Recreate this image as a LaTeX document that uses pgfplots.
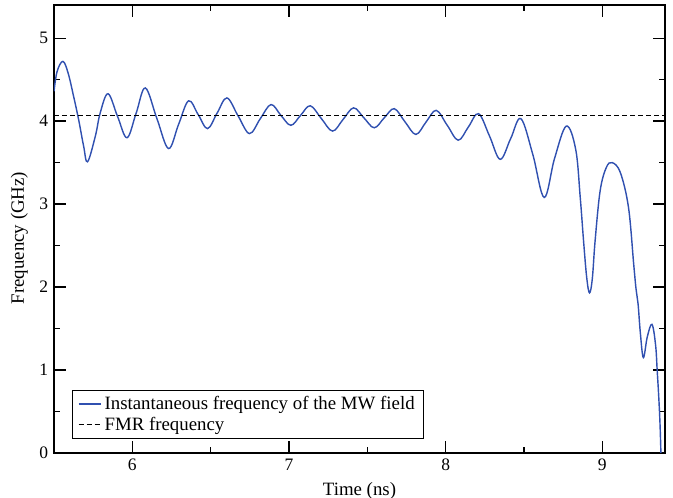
\documentclass[border=0pt]{standalone}
\usepackage{pgfplots}
\pgfplotsset{compat=1.18}
\usepackage{fontspec}
\setmainfont{Liberation Serif}
\definecolor{curveblue}{RGB}{48,80,176}
\begin{document}
\begin{tikzpicture}
\begin{axis}[
  scale only axis,
  width=366.6pt, height=268.8pt,
  xmin=5.5, xmax=9.4, ymin=0, ymax=5.4,
  xtick={6,7,8,9}, ytick={0,1,2,3,4,5},
  minor xtick={6.5,7.5,8.5},
  minor ytick={0.5,1.5,2.5,3.5,4.5},
  tick align=inside,
  major tick length=7pt, minor tick length=3.5pt,
  axis line style={line width=1pt},
  every tick/.style={black, line width=0.8pt},
  /pgf/number format/assume math mode=true,
  tick label style={font=\fontsize{10.5}{12}\selectfont},
  label style={font=\fontsize{11.3}{13}\selectfont},
  xlabel={Time (ns)},
  ylabel={Frequency (GHz)},
  ylabel style={at={(axis description cs:-0.033,0.48)}, anchor=south, rotate=0},
  legend style={at={(0.03,0.031)}, anchor=south west, draw=black, line width=0.6pt,
    font=\fontsize{11.3}{13}\selectfont, inner xsep=3pt, inner ysep=1.5pt, row sep=-1pt,
    cells={anchor=west}},
  legend image code/.code={\draw[#1] (0pt,0pt) -- (13.2pt,0pt);},
  legend cell align=left,
]
\addplot[curveblue, line width=0.85pt, smooth, tension=0.6] coordinates {
(5.500,4.36) (5.520,4.60) (5.557,4.72) (5.590,4.58) (5.625,4.30) (5.657,4.02)
(5.689,3.70) (5.714,3.51) (5.764,3.82) (5.795,4.10) (5.845,4.33) (5.905,4.06)
(5.966,3.80) (6.025,4.10) (6.083,4.40) (6.157,4.03) (6.231,3.67) (6.295,3.96)
(6.359,4.245) (6.420,4.08) (6.480,3.91) (6.542,4.10) (6.604,4.28) (6.676,4.06)
(6.748,3.85) (6.817,4.03) (6.885,4.20) (6.948,4.07) (7.012,3.95) (7.074,4.07)
(7.136,4.185) (7.207,4.03) (7.278,3.88) (7.345,4.02) (7.412,4.16) (7.478,4.04)
(7.544,3.92) (7.608,4.04) (7.672,4.15) (7.741,3.99) (7.810,3.84) (7.875,3.99)
(7.940,4.13) (8.010,3.95) (8.080,3.77) (8.145,3.93) (8.210,4.09) (8.280,3.82)
(8.348,3.54) (8.415,3.79) (8.480,4.03) (8.556,3.60) (8.629,3.08) (8.695,3.55)
(8.770,3.94) (8.830,3.66) (8.859,3.08) (8.880,2.56) (8.900,2.12) (8.918,1.93)
(8.936,2.10) (8.954,2.56) (8.986,3.16) (9.025,3.44) (9.063,3.50) (9.115,3.38)
(9.167,2.96) (9.200,2.28) (9.215,1.98) (9.228,1.80) (9.243,1.44) (9.262,1.15)
(9.287,1.40) (9.317,1.55) (9.340,1.30) (9.350,1.00) (9.360,0.68) (9.368,0.36)
(9.374,0.00)
};
\addlegendentry{Instantaneous frequency of the MW field}
\addplot[black, line width=0.7pt, dash pattern=on 3pt off 1.8pt] coordinates {(5.5,4.07) (9.4,4.07)};
\addlegendentry{FMR frequency}
\end{axis}
\pgfresetboundingbox
\path ([shift={(-32.4pt,-27pt)}]current axis.south west) rectangle ([shift={(4.8pt,3pt)}]current axis.north east);
\end{tikzpicture}
\end{document}
